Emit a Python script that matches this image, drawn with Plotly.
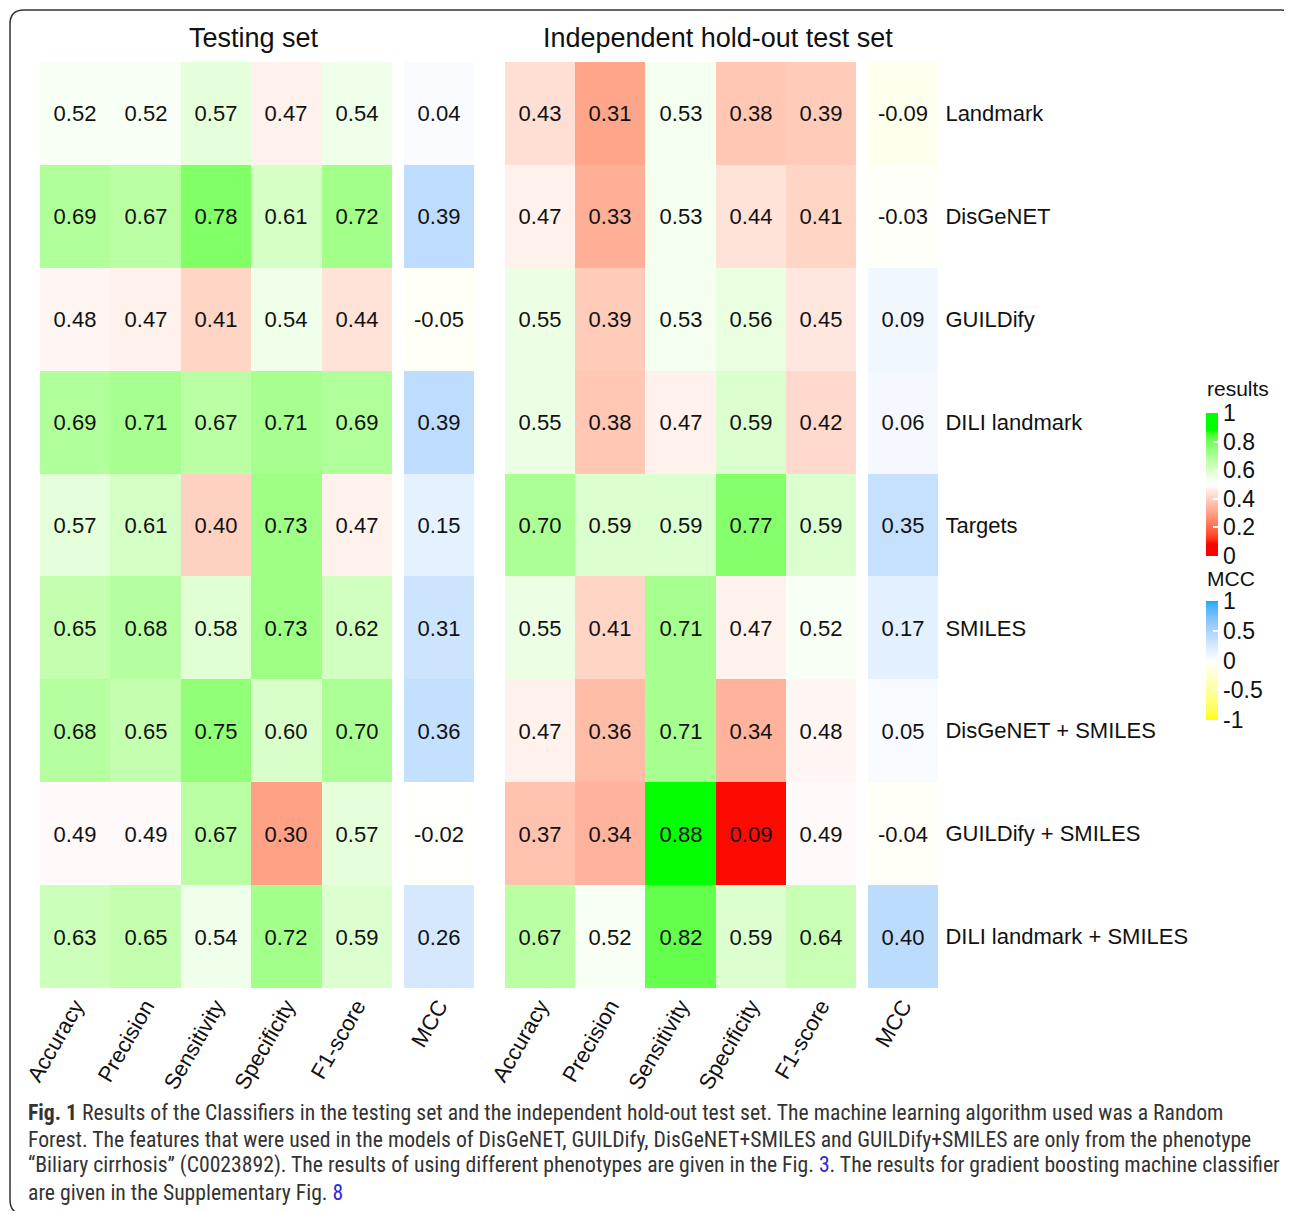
import numpy as np
import plotly.graph_objects as go

W, H = 1292, 1211
OFF = 8  # page body margin
FW, FH = W - OFF, H - OFF

rows = ["Landmark", "DisGeNET", "GUILDify", "DILI landmark", "Targets", "SMILES",
        "DisGeNET + SMILES", "GUILDify + SMILES", "DILI landmark + SMILES"]
metrics = ["Accuracy", "Precision", "Sensitivity", "Specificity", "F1-score"]
mcc_col = ["MCC"]

test_metrics = [
    [0.52, 0.52, 0.57, 0.47, 0.54],
    [0.69, 0.67, 0.78, 0.61, 0.72],
    [0.48, 0.47, 0.41, 0.54, 0.44],
    [0.69, 0.71, 0.67, 0.71, 0.69],
    [0.57, 0.61, 0.40, 0.73, 0.47],
    [0.65, 0.68, 0.58, 0.73, 0.62],
    [0.68, 0.65, 0.75, 0.60, 0.70],
    [0.49, 0.49, 0.67, 0.30, 0.57],
    [0.63, 0.65, 0.54, 0.72, 0.59],
]
test_mcc = [0.04, 0.39, -0.05, 0.39, 0.15, 0.31, 0.36, -0.02, 0.26]

hold_metrics = [
    [0.43, 0.31, 0.53, 0.38, 0.39],
    [0.47, 0.33, 0.53, 0.44, 0.41],
    [0.55, 0.39, 0.53, 0.56, 0.45],
    [0.55, 0.38, 0.47, 0.59, 0.42],
    [0.70, 0.59, 0.59, 0.77, 0.59],
    [0.55, 0.41, 0.71, 0.47, 0.52],
    [0.47, 0.36, 0.71, 0.34, 0.48],
    [0.37, 0.34, 0.88, 0.09, 0.49],
    [0.67, 0.52, 0.82, 0.59, 0.64],
]
hold_mcc = [-0.09, -0.03, 0.09, 0.06, 0.35, 0.17, 0.05, -0.04, 0.40]

res_ticks = [0, 0.2, 0.4, 0.6, 0.8, 1]
res_ticktext = ["0", "0.2", "0.4", "0.6", "0.8", "1"]
mcc_ticks = [-1, -0.5, 0, 0.5, 1]
mcc_ticktext = ["-1", "-0.5", "0", "0.5", "1"]

caption_lines = [
    "<b>Fig. 1</b> Results of the Classifiers in the testing set and the independent hold-out test set. "
    "The machine learning algorithm used was a Random",
    "Forest. The features that were used in the models of DisGeNET, GUILDify, DisGeNET+SMILES and "
    "GUILDify+SMILES are only from the phenotype",
    "\u201cBiliary cirrhosis\u201d (C0023892). The results of using different phenotypes are given in the Fig. "
    "<span style='color:#2b2bd9'>3</span>. The results for gradient boosting machine classifier",
    "are given in the Supplementary Fig. <span style='color:#2b2bd9'>8</span>",
]


# ---- LAB colour interpolation (like colorRamp2) ----
def _srgb2lin(c):
    c = np.asarray(c, float) / 255.0
    return np.where(c <= 0.04045, c / 12.92, ((c + 0.055) / 1.055) ** 2.4)


def _lin2srgb(c):
    c = np.clip(c, 0, 1)
    v = np.where(c <= 0.0031308, 12.92 * c, 1.055 * c ** (1 / 2.4) - 0.055)
    return np.clip(np.round(v * 255), 0, 255)


M = np.array([[0.4124, 0.3576, 0.1805], [0.2126, 0.7152, 0.0722], [0.0193, 0.1192, 0.9505]])
Minv = np.linalg.inv(M)
WP = np.array([0.95047, 1.0, 1.08883])


def rgb2lab(rgb):
    xyz = M @ _srgb2lin(rgb) / WP
    f = np.where(xyz > 216 / 24389, np.cbrt(xyz), (24389 / 27 * xyz + 16) / 116)
    return np.array([116 * f[1] - 16, 500 * (f[0] - f[1]), 200 * (f[1] - f[2])])


def lab2rgb(lab):
    L, a, b = lab
    fy = (L + 16) / 116
    fx = fy + a / 500
    fz = fy - b / 200
    f = np.array([fx, fy, fz])
    xyz = np.where(f ** 3 > 216 / 24389, f ** 3, (116 * f - 16) / (24389 / 27)) * WP
    return _lin2srgb(Minv @ xyz)


def ramp(breaks, cols, lo, hi, n=60):
    labs = [rgb2lab(c) for c in cols]
    scale = []
    for v in np.linspace(lo, hi, n):
        vv = min(max(v, breaks[0]), breaks[-1])
        for i in range(len(breaks) - 1):
            if breaks[i] <= vv <= breaks[i + 1]:
                t = (vv - breaks[i]) / (breaks[i + 1] - breaks[i])
                lab = labs[i] * (1 - t) + labs[i + 1] * t
                break
        r, g, b = lab2rgb(lab)
        scale.append([(v - lo) / (hi - lo), f"rgb({int(r)},{int(g)},{int(b)})"])
    return scale


res_scale = ramp([0.09, 0.5, 0.88], [(255, 0, 0), (255, 255, 255), (0, 255, 0)], 0, 1)
mcc_scale = ramp([-1, 0, 1], [(255, 255, 0), (255, 255, 255), (15, 170, 250)], -1, 1)


def px(x):
    return (x - OFF) / FW


def py(y):
    return 1 - (y - OFF) / FH


FONT = "'Liberation Sans', Arial, Helvetica, sans-serif"
ytop, ybot = 62, 988

fig = go.Figure()


def fmt(arr):
    return [[f"{v:.2f}" for v in r] for r in arr]


panels = [
    ("x", "y", metrics, test_metrics, res_scale, 0, 1, (40, 392)),
    ("x2", "y2", mcc_col, [[v] for v in test_mcc], mcc_scale, -1, 1, (404, 474)),
    ("x3", "y3", metrics, hold_metrics, res_scale, 0, 1, (505, 856)),
    ("x4", "y4", mcc_col, [[v] for v in hold_mcc], mcc_scale, -1, 1, (868, 938)),
]

for i, (xa, ya, cols, z, cs, zmin, zmax, dom) in enumerate(panels):
    cb = None
    show = False
    if i == 0:
        show = True
        cb = dict(x=px(1206), xanchor="left", xpad=0, ypad=0, y=py(413), yanchor="top",
                  len=143, lenmode="pixels", thickness=12, outlinewidth=0,
                  tickvals=res_ticks, ticktext=res_ticktext, ticks="inside", ticklen=5,
                  tickcolor="white", tickwidth=2,
                  tickfont=dict(family=FONT, size=23, color="#111"))
    if i == 1:
        show = True
        cb = dict(x=px(1206), xanchor="left", xpad=0, ypad=0, y=py(601), yanchor="top",
                  len=119, lenmode="pixels", thickness=12, outlinewidth=0,
                  tickvals=mcc_ticks, ticktext=mcc_ticktext, ticks="inside", ticklen=5,
                  tickcolor="white", tickwidth=2,
                  tickfont=dict(family=FONT, size=23, color="#111"))
    fig.add_trace(go.Heatmap(
        z=z, x=cols, y=rows, xaxis=xa, yaxis=ya,
        colorscale=cs, zmin=zmin, zmax=zmax,
        text=fmt(z), texttemplate="%{text}",
        textfont=dict(family=FONT, size=22, color="#111"),
        showscale=show, colorbar=cb, hoverinfo="skip",
    ))
    sfx = "" if i == 0 else str(i + 1)
    fig.layout["xaxis" + sfx] = dict(
        domain=[px(dom[0]), px(dom[1])], anchor="y" + sfx, tickangle=-60,
        showgrid=False, zeroline=False, showline=False, ticks="", automargin=False,
        tickfont=dict(family=FONT, size=22, color="#111"), fixedrange=True)
    fig.layout["yaxis" + sfx] = dict(
        domain=[py(ybot), py(ytop)], anchor="x" + sfx, autorange="reversed",
        showgrid=False, zeroline=False, showline=False,
        ticks="outside", ticklen=2, tickcolor="rgba(0,0,0,0)", automargin=False,
        showticklabels=(i == 3), side="right",
        tickfont=dict(family=FONT, size=22, color="#111"), fixedrange=True)

annotations = [
    dict(text="Testing set", x=px(254), y=py(38), xref="paper", yref="paper",
         showarrow=False, font=dict(family=FONT, size=27, color="#111"),
         xanchor="center", yanchor="middle"),
    dict(text="Independent hold-out test set", x=px(718), y=py(38), xref="paper", yref="paper",
         showarrow=False, font=dict(family=FONT, size=27, color="#111"),
         xanchor="center", yanchor="middle"),
    dict(text="results", x=px(1205), y=py(389), xref="paper", yref="paper",
         showarrow=False, font=dict(family=FONT, size=21, color="#111"),
         xanchor="left", yanchor="middle"),
    dict(text="MCC", x=px(1205), y=py(578), xref="paper", yref="paper",
         showarrow=False, font=dict(family=FONT, size=21, color="#111"),
         xanchor="left", yanchor="middle"),
]

cap_y = [1112, 1139, 1165, 1192]
for line, yy in zip(caption_lines, cap_y):
    annotations.append(dict(text=line, x=px(26), y=py(yy), xref="paper", yref="paper",
                            showarrow=False, align="left", xanchor="left", yanchor="middle",
                            font=dict(family="Roboto Condensed, Liberation Sans Narrow, Lato, sans-serif",
                                      size=21.7, color="#333")))

# rounded border (right and bottom edges run just past the visible area)
x0, y0, x1, y1, r = px(10), py(10), px(1295), py(1214), 14
rx, ry = r / FW, r / FH
path = (f"M {x0+rx},{y0} L {x1-rx},{y0} Q {x1},{y0} {x1},{y0-ry} "
        f"L {x1},{y1+ry} Q {x1},{y1} {x1-rx},{y1} L {x0+rx},{y1} Q {x0},{y1} {x0},{y1+ry} "
        f"L {x0},{y0-ry} Q {x0},{y0} {x0+rx},{y0} Z")

fig.update_layout(
    template="none",
    width=FW, height=FH, margin=dict(l=0, r=0, t=0, b=0, autoexpand=False),
    paper_bgcolor="white", plot_bgcolor="white",
    annotations=annotations,
    shapes=[dict(type="path", path=path, xref="paper", yref="paper",
                 line=dict(color="#333", width=1.5), fillcolor="rgba(0,0,0,0)")],
)

fig.write_html("out.html")
